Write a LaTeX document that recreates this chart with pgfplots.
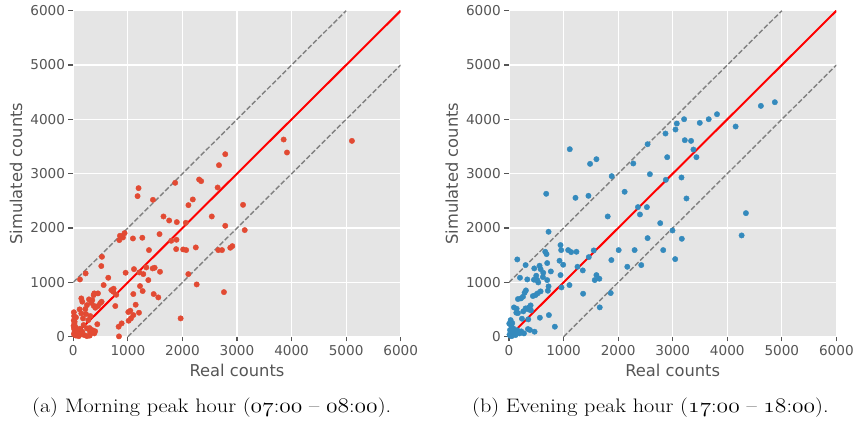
\documentclass[border=0pt]{standalone}
\usepackage{fontspec}
\usepackage{graphicx}
\usepackage{pgfplots}
\usepackage{pgfplotstable}
\pgfplotsset{compat=1.18}
\newfontfamily\dejavu{DejaVu Sans}
\definecolor{bgc}{HTML}{E5E5E5}
\definecolor{tickgray}{HTML}{555555}
\definecolor{dashgray}{HTML}{808080}
\definecolor{morning}{HTML}{E24A33}
\definecolor{evening}{HTML}{348ABD}
\newcommand{\os}[1]{$\mathnormal{#1}$}

\pgfplotstableread{
x y
5106 3604
3855 3629
3916 3390
2785 3359
2670 3157
2306 2893
2343 2863
2645 2746
1867 2832
1196 2734
1178 2587
1460 2519
2190 2526
2110 2421
3111 2427
2538 2213
1653 2213
1757 2139
1897 2109
2062 2096
2785 2041
3142 1962
1580 1888
940 1906
855 1857
843 1778
910 1827
1093 1808
1265 1821
1794 1765
1891 1784
1387 1594
1885 1612
2013 1606
2068 1594
2245 1643
2657 1594
2725 1594
2877 1637
2914 1667
1112 1244
1338 1275
1454 1257
1491 1269
1210 1183
1283 1152
1589 1195
959 1177
1375 1042
1271 840
1222 932
1100 785
1473 785
1558 723
1143 588
1204 441
1008 454
1045 478
1057 337
1014 294
1100 398
831 184
886 245
837 6
1967 337
2108 1152
2261 962
2761 821
525 1471
513 1300
226 1165
122 1054
556 950
641 1085
697 858
733 828
739 883
788 772
770 564
385 797
452 797
373 766
348 674
287 687
147 705
165 644
251 582
330 625
373 570
452 564
519 644
495 619
403 533
220 509
116 503
147 429
232 417
312 380
177 337
275 306
189 215
300 159
251 153
122 147
165 92
306 92
385 61
49 356
24 276
37 184
73 123
37 61
10 450
15 380
8 300
20 250
5 200
12 150
25 100
10 50
30 30
50 20
80 40
100 10
60 80
150 50
200 30
250 10
300 20
350 120
400 100
440 230
}\morningdata

\pgfplotstableread{
x y
4872 4316
4616 4248
4153 3868
3812 4095
3660 4003
3496 3935
3209 4003
3075 3923
3051 3813
2868 3739
3222 3617
3337 3604
3380 3445
3435 3304
2899 3304
2540 3543
2278 3188
1602 3267
1486 3181
1114 3451
2582 2991
1882 2955
2874 2887
3161 2930
682 2630
2119 2667
1218 2556
1456 2593
3252 2544
2363 2385
2527 2385
2400 2250
1809 2213
2771 2090
4342 2274
2996 1955
4263 1864
2540 1814
3167 1802
725 1931
2010 1594
2302 1594
2826 1594
1553 1588
1462 1465
1876 1410
3045 1428
2168 1287
2424 1318
1352 1220
1602 1134
1571 1042
1656 1067
1864 803
1358 791
1663 540
152 1422
664 1563
688 1520
944 1686
956 1594
1084 1594
1139 1557
1236 1563
1255 1287
926 1398
993 1324
944 1134
962 907
1108 950
579 1244
560 1306
700 1355
767 1201
627 1177
621 1097
499 1122
463 1257
518 1042
536 999
457 1048
335 1054
304 1318
201 1085
700 1042
725 926
712 846
579 834
524 797
487 766
438 748
286 809
310 852
256 736
219 705
164 693
396 576
365 539
353 503
402 484
304 521
262 466
91 539
140 515
134 441
164 435
840 184
731 398
566 349
237 331
353 319
30 306
43 196
18 123
347 141
384 123
469 92
225 98
195 61
104 80
67 49
274 61
10 40
20 20
50 10
80 150
120 30
5 240
60 250
150 120
}\eveningdata

\pgfplotsset{
  ggstyle/.style={
    anchor=south west,
    scale only axis,
    width=327.4pt, height=326pt,
    xmin=0, xmax=6000, ymin=0, ymax=6000,
    axis background/.style={fill=bgc},
    axis line style={draw=none},
    grid=major,
    major grid style={white, line width=1.1pt},
    xtick={0,1000,...,6000},
    ytick={0,1000,...,6000},
    tick pos=left,
    tick align=outside,
    major tick length=4.8pt,
    tick style={tickgray, line width=1.1pt},
    scaled ticks=false,
    /pgf/number format/1000 sep={},
    /pgf/number format/assume math mode=true,
    tick label style={font=\dejavu\fontsize{13.6}{16}\selectfont, text=tickgray},
    label style={font=\dejavu\fontsize{16.3}{19}\selectfont, text=tickgray},
    xlabel={Real counts},
    ylabel={Simulated counts},
    xlabel style={at={(axis description cs:0.5,-0.102)}, anchor=center},
    ylabel style={at={(axis description cs:-0.175,0.5)}, anchor=center, rotate=0},
  },
  refline/.style={red, line width=2pt},
  dashline/.style={dashgray, line width=1.4pt, dash pattern=on 5pt off 2.2pt},
}

\begin{document}
\begin{tikzpicture}
\useasboundingbox (0,0) rectangle (859pt,425pt);
\begin{axis}[ggstyle, at={(73.3pt,88.3pt)}]
\addplot[only marks, mark=*, mark size=2.7pt, color=morning] table[x=x,y=y] {\morningdata};
\addplot[dashline] coordinates {(0,1000) (5000,6000)};
\addplot[dashline] coordinates {(1000,0) (6000,5000)};
\addplot[refline] coordinates {(0,0) (6000,6000)};
\end{axis}
\begin{axis}[ggstyle, at={(509pt,88.3pt)}]
\addplot[only marks, mark=*, mark size=2.7pt, color=evening] table[x=x,y=y] {\eveningdata};
\addplot[dashline] coordinates {(0,1000) (5000,6000)};
\addplot[dashline] coordinates {(1000,0) (6000,5000)};
\addplot[refline] coordinates {(0,0) (6000,6000)};
\end{axis}
\node[anchor=base west, inner sep=0pt] at (32pt,12.7pt) {\scalebox{1.138}[1]{\fontsize{19.5}{22}\selectfont (a) Morning peak hour (\os{07}:\os{00} -- \os{08}:\os{00}).}};
\node[anchor=base west, inner sep=0pt] at (472pt,12.7pt) {\scalebox{1.138}[1]{\fontsize{19.5}{22}\selectfont (b) Evening peak hour (\os{17}:\os{00} -- \os{18}:\os{00}).}};
\end{tikzpicture}
\end{document}
